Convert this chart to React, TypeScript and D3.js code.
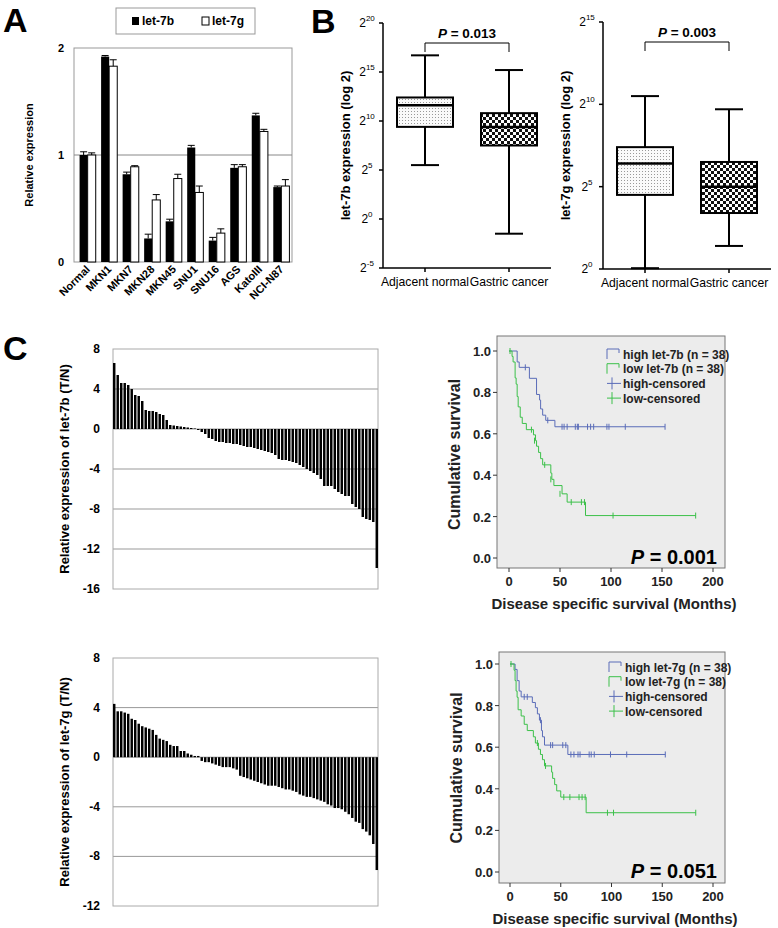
import React from "react";
import * as d3 from "d3";

const cellLines = ["Normal","MKN1","MKN7","MKN28","MKN45","SNU1","SNU16","AGS","KatoIII","NCI-N87"];
const let7b = [1.0,1.92,0.82,0.22,0.38,1.07,0.2,0.88,1.37,0.7];
const let7bErr = [0.03,0.01,0.02,0.04,0.02,0.02,0.03,0.03,0.02,0.01];
const let7g = [1.0,1.83,0.89,0.58,0.78,0.65,0.27,0.89,1.22,0.71];
const let7gErr = [0.02,0.06,0.01,0.05,0.04,0.06,0.04,0.02,0.02,0.06];

// box stats [min,q1,median,q3,max] in log2
const box7b = [[5.5,9.4,11.6,12.4,16.7],[-1.5,7.5,9.4,10.8,15.2]];
const box7g = [[0.05,4.5,6.4,7.4,10.5],[1.4,3.4,5.0,6.5,9.7]];
const boxGroups = ["Adjacent normal","Gastric cancer"];

const ratio7b = [6.6,5.4,4.6,4.6,4.4,4.0,3.4,3.3,2.8,1.9,1.8,1.8,1.7,1.5,1.4,0.9,0.4,0.35,0.3,0.25,0.2,0.15,0.1,0.05,
 -0.1,-0.3,-0.5,-0.9,-1.0,-1.2,-1.3,-1.3,-1.4,-1.4,-1.5,-1.5,-1.6,-1.7,-1.8,-1.8,-1.9,-2.0,-2.1,-2.2,-2.3,-2.4,-2.6,-3.0,-3.1,-3.1,-3.2,-3.3,-3.4,-3.6,-3.8,-4.0,-4.2,-4.4,-4.6,-5.0,-5.7,-5.7,-5.7,-6.0,-6.3,-6.5,-6.7,-6.7,-7.5,-7.8,-8.0,-8.8,-9.0,-9.1,-9.3,-13.9];
const ratio7g = [4.3,3.7,3.7,3.6,3.5,3.1,3.0,2.7,2.5,2.4,2.3,2.2,1.8,1.5,1.4,1.3,1.0,0.9,0.9,0.5,0.5,0.3,0.2,0.1,0.1,
 -0.3,-0.4,-0.4,-0.5,-0.6,-0.7,-0.8,-0.8,-0.8,-0.9,-1.0,-1.5,-1.6,-1.7,-1.8,-1.9,-2.0,-2.1,-2.2,-2.3,-2.3,-2.3,-2.4,-2.5,-2.6,-2.6,-2.7,-2.8,-3.0,-3.1,-3.2,-3.2,-3.3,-3.4,-3.5,-3.6,-3.8,-3.9,-4.1,-4.1,-4.2,-4.4,-4.6,-4.9,-5.2,-5.3,-5.8,-6.0,-6.3,-7.0,-9.1];

const high7b = [[0,1],[8,0.947],[10,0.921],[20,0.868],[27,0.79],[30,0.763],[31,0.72],[33,0.69],[36,0.665],[45,0.634],[153,0.634]];
const high7bCens = [[16,0.921],[38,0.665],[52,0.634],[54,0.634],[57,0.634],[65,0.634],[67,0.634],[68,0.634],[77,0.634],[80,0.634],[83,0.634],[96,0.634],[98,0.634],[114,0.634],[153,0.634]];
const low7b = [[0,1],[3,0.974],[4,0.947],[6,0.87],[7,0.84],[8,0.78],[9,0.73],[11,0.68],[13,0.65],[17,0.62],[24,0.595],[26,0.567],[27,0.54],[29,0.51],[31,0.48],[33,0.45],[41,0.41],[42,0.38],[44,0.35],[52,0.31],[57,0.27],[75,0.205],[183,0.205]];
const low7bCens = [[1,1],[22,0.62],[25,0.567],[35,0.45],[41,0.38],[50,0.31],[61,0.27],[71,0.27],[74,0.27],[102,0.205],[183,0.205]];
const high7g = [[0,1],[5,0.974],[7,0.92],[9,0.87],[11,0.842],[22,0.815],[25,0.79],[27,0.76],[29,0.73],[31,0.68],[32,0.65],[34,0.61],[57,0.565],[153,0.565]];
const high7gCens = [[14,0.842],[17,0.842],[30,0.73],[40,0.61],[42,0.61],[52,0.61],[55,0.61],[60,0.565],[63,0.565],[67,0.565],[69,0.565],[78,0.565],[80,0.565],[83,0.565],[99,0.565],[115,0.565],[153,0.565]];
const low7g = [[0,1],[4,0.97],[5,0.92],[6,0.87],[7,0.84],[8,0.78],[11,0.75],[14,0.71],[17,0.68],[23,0.65],[25,0.62],[28,0.59],[30,0.565],[32,0.54],[34,0.51],[41,0.48],[42,0.45],[44,0.42],[46,0.39],[50,0.36],[75,0.285],[183,0.285]];
const low7gCens = [[1,1],[27,0.62],[35,0.51],[53,0.36],[59,0.36],[68,0.36],[71,0.36],[74,0.36],[96,0.285],[102,0.285],[183,0.285]];

const F = "Arial, 'Liberation Sans', sans-serif";
const BLUE = "#5a6cb8";
const GREEN = "#3cc04a";

function PanelA() {
  const x = d3.scaleBand().domain(cellLines).range([77, 292]).paddingInner(0.25).paddingOuter(0.12);
  const y = d3.scaleLinear().domain([0, 2]).range([262, 48]);
  const bw = x.bandwidth() / 2;
  return (
    <g>
      <rect x={116} y={8} width={139} height={26} fill="#fff" stroke="#999" />
      <rect x={132} y={17} width={7} height={8} fill="#000" />
      <text x={142} y={25} fontSize={12} fontWeight="bold" fontFamily={F}>let-7b</text>
      <rect x={202} y={17} width={7} height={8} fill="#fff" stroke="#000" />
      <text x={212} y={25} fontSize={12} fontWeight="bold" fontFamily={F}>let-7g</text>
      <rect x={74} y={48} width={218} height={214} fill="none" stroke="#999" />
      <line x1={74} x2={292} y1={y(1)} y2={y(1)} stroke="#888" />
      {[0, 1, 2].map(t => (
        <text key={t} x={64} y={y(t) + 4} fontSize={11} fontWeight="bold" fontFamily={F} textAnchor="end">{t}</text>
      ))}
      <text transform="translate(33,155) rotate(-90)" fontSize={11} fontWeight="bold" fontFamily={F} textAnchor="middle">Relative expression</text>
      {cellLines.map((c, i) => {
        const x0 = x(c)!;
        return (
          <g key={c}>
            <rect x={x0} y={y(let7b[i])} width={bw} height={y(0) - y(let7b[i])} fill="#000" />
            <rect x={x0 + bw} y={y(let7g[i])} width={bw} height={y(0) - y(let7g[i])} fill="#fff" stroke="#000" />
            {[[x0 + bw / 2, let7b[i], let7bErr[i]], [x0 + bw * 1.5, let7g[i], let7gErr[i]]].map(([cx, v, e], k) => (
              <g key={k} stroke="#000">
                <line x1={cx} x2={cx} y1={y(v)} y2={y(v + e)} />
                <line x1={cx - 3.5} x2={cx + 3.5} y1={y(v + e)} y2={y(v + e)} />
              </g>
            ))}
            <text transform={`translate(${x0 + bw + 3},270) rotate(-45)`} fontSize={11} fontWeight="bold" fontFamily={F} textAnchor="end">{c}</text>
          </g>
        );
      })}
    </g>
  );
}

function BoxPanel({ data, xAxis, top, bottom, domain, ticks, label, p, id }: any) {
  const y = d3.scaleLinear().domain(domain).range([bottom, top]);
  const xs = [xAxis + 42, xAxis + 126];
  const hw = 28;
  return (
    <g>
      <line x1={xAxis} x2={xAxis} y1={top} y2={bottom} stroke="#000" strokeWidth={1.5} />
      <line x1={xAxis} x2={xAxis + 168} y1={bottom} y2={bottom} stroke="#000" strokeWidth={1.5} />
      {ticks.map((t: number) => (
        <g key={t}>
          <line x1={xAxis - 4} x2={xAxis} y1={y(t)} y2={y(t)} stroke="#000" strokeWidth={1.5} />
          <text x={xAxis - 16} y={y(t) + 4} fontSize={12} fontFamily={F} textAnchor="middle">2<tspan dy={-6} fontSize={8}>{t}</tspan></text>
        </g>
      ))}
      <text transform={`translate(${xAxis - 33},${(top + bottom) / 2}) rotate(-90)`} fontSize={13} fontWeight="bold" fontFamily={F} textAnchor="middle">{label}</text>
      {data.map((d: number[], i: number) => (
        <g key={i} stroke="#000" strokeWidth={2}>
          <line x1={xs[i]} x2={xs[i]} y1={y(d[0])} y2={y(d[4])} />
          <line x1={xs[i] - 14} x2={xs[i] + 14} y1={y(d[0])} y2={y(d[0])} />
          <line x1={xs[i] - 14} x2={xs[i] + 14} y1={y(d[4])} y2={y(d[4])} />
          <rect x={xs[i] - hw} y={y(d[3])} width={hw * 2} height={y(d[1]) - y(d[3])} fill={i === 0 ? `url(#dots${id})` : `url(#check${id})`} />
          <line x1={xs[i] - hw} x2={xs[i] + hw} y1={y(d[2])} y2={y(d[2])} strokeWidth={2.5} />
          <line x1={xs[i]} x2={xs[i]} y1={bottom} y2={bottom + 4} strokeWidth={1.5} />
          <text x={xs[i]} y={bottom + 18} fontSize={12.2} fontFamily={F} textAnchor="middle" stroke="none">{boxGroups[i]}</text>
        </g>
      ))}
      <path d={`M${xs[0]},${top + 29} V${top + 20} H${xs[1]} V${top + 29}`} fill="none" stroke="#000" />
      <text x={(xs[0] + xs[1]) / 2} y={top + 15} fontSize={13.5} fontWeight="bold" fontFamily={F} textAnchor="middle"><tspan fontStyle="italic">P</tspan> = {p}</text>
    </g>
  );
}

function Waterfall({ values, top, bottom, domain, ticks, label }: any) {
  const y = d3.scaleLinear().domain(domain).range([bottom, top]);
  const x = d3.scaleBand<number>().domain(d3.range(values.length)).range([113, 378]).paddingInner(0.3);
  return (
    <g>
      {ticks.map((t: number) => (
        <g key={t}>
          {t !== domain[0] && t !== domain[1] && <line x1={113} x2={378} y1={y(t)} y2={y(t)} stroke="#999" />}
          <text x={100} y={y(t) + 4} fontSize={12} fontWeight="bold" fontFamily={F} textAnchor="end">{t}</text>
        </g>
      ))}
      <rect x={113} y={top} width={265} height={bottom - top} fill="none" stroke="#aaa" />
      {values.map((v: number, i: number) => (
        <rect key={i} x={x(i)} width={x.bandwidth()} y={Math.min(y(v), y(0))} height={Math.abs(y(v) - y(0))} fill="#000" />
      ))}
      <text transform={`translate(69,${(top + bottom) / 2}) rotate(-90)`} fontSize={13} fontWeight="bold" fontFamily={F} textAnchor="middle">{label}</text>
    </g>
  );
}

function KM({ box, x0, x200, y1, y0, series, gene, p }: any) {
  const x = d3.scaleLinear().domain([0, 200]).range([x0, x200]);
  const y = d3.scaleLinear().domain([0, 1]).range([y0, y1]);
  const line = d3.line<number[]>().x(d => x(d[0])).y(d => y(d[1])).curve(d3.curveStepAfter);
  const lx = box[0] + 110;
  const ly = y1 + 3;
  const legend = [
    [`high ${gene} (n = 38)`, BLUE, "step"], [`low ${gene}  (n = 38)`, GREEN, "step"],
    ["high-censored", BLUE, "cross"], ["low-censored", GREEN, "cross"]];
  return (
    <g>
      <rect x={box[0]} y={box[1]} width={box[2] - box[0]} height={box[3] - box[1]} fill="#ececec" stroke="#777" />
      {series.map(([pts, cens, col]: any, i: number) => (
        <g key={i}>
          <path d={line(pts)!} fill="none" stroke={col} strokeWidth={1} />
          {cens.map((c: number[], j: number) => (
            <line key={j} x1={x(c[0])} x2={x(c[0])} y1={y(c[1]) - 3} y2={y(c[1]) + 3} stroke={col} />
          ))}
        </g>
      ))}
      {legend.map(([t, col, kind], i) => {
        const yy = ly + i * 14.7;
        return (
          <g key={i}>
            {kind === "step"
              ? <path d={`M${lx},${yy + 5} V${yy - 5} H${lx + 12} V${yy - 1}`} fill="none" stroke={col} />
              : <g stroke={col}><line x1={lx} x2={lx + 14} y1={yy} y2={yy} /><line x1={lx + 5} x2={lx + 5} y1={yy - 6} y2={yy + 6} /></g>}
            <text x={lx + 16} y={yy + 4.5} fontSize={12} fontWeight="bold" fontFamily={F} fill="#222">{t}</text>
          </g>
        );
      })}
      {[0, 0.2, 0.4, 0.6, 0.8, 1].map(t => (
        <g key={t}>
          <line x1={box[0] - 4} x2={box[0]} y1={y(t)} y2={y(t)} stroke="#333" />
          <text x={box[0] - 6} y={y(t) + 5} fontSize={13} fontWeight="bold" fontFamily={F} textAnchor="end" fill="#222">{t.toFixed(1)}</text>
        </g>
      ))}
      {[0, 50, 100, 150, 200].map(t => (
        <g key={t}>
          <line x1={x(t)} x2={x(t)} y1={box[3]} y2={box[3] + 4} stroke="#333" />
          <text x={x(t)} y={box[3] + 18} fontSize={13} fontWeight="bold" fontFamily={F} textAnchor="middle" fill="#222">{t}</text>
        </g>
      ))}
      <text transform={`translate(${box[0] - 37},${(y0 + y1) / 2}) rotate(-90)`} fontSize={16} fontWeight="600" fontFamily={F} textAnchor="middle" fill="#222">Cumulative survival</text>
      <text x={(box[0] + box[2]) / 2 + 3} y={box[3] + 41} fontSize={15} fontWeight="bold" fontFamily={F} textAnchor="middle" fill="#222">Disease specific survival (Months)</text>
      <text x={box[2] - 8} y={y0 + 6} fontSize={20} fontWeight="bold" fontFamily={F} textAnchor="end"><tspan fontStyle="italic">P</tspan> = {p}</text>
    </g>
  );
}

export default function App() {
  return (
    <svg width={778} height={928} style={{ position: "absolute", left: 0, top: 0, background: "#fff" }}>
      <defs>
        {["1", "2"].map(id => (
          <g key={id}>
            <pattern id={`dots${id}`} width={3} height={3} patternUnits="userSpaceOnUse">
              <rect width={3} height={3} fill="#fafafa" />
              <rect width={1} height={1} fill="#999" />
            </pattern>
            <pattern id={`check${id}`} width={6} height={6} patternUnits="userSpaceOnUse">
              <rect width={6} height={6} fill="#fff" />
              <rect width={3} height={3} fill="#111" />
              <rect x={3} y={3} width={3} height={3} fill="#111" />
            </pattern>
          </g>
        ))}
      </defs>
      <text x={3} y={32} fontSize={34} fontWeight="bold" fontFamily={F}>A</text>
      <text x={311} y={33} fontSize={34} fontWeight="bold" fontFamily={F}>B</text>
      <text x={3} y={360} fontSize={34} fontWeight="bold" fontFamily={F}>C</text>
      <PanelA />
      <BoxPanel id="1" data={box7b} xAxis={383} top={23} bottom={268} domain={[-5, 20]} ticks={[-5, 0, 5, 10, 15, 20]} label="let-7b expression (log 2)" p="0.013" />
      <BoxPanel id="2" data={box7g} xAxis={603} top={22} bottom={269} domain={[0, 15]} ticks={[0, 5, 10, 15]} label="let-7g expression (log 2)" p="0.003" />
      <Waterfall values={ratio7b} top={349} bottom={589} domain={[-16, 8]} ticks={[8, 4, 0, -4, -8, -12, -16]} label="Relative expression of let-7b (T/N)" />
      <Waterfall values={ratio7g} top={658} bottom={906} domain={[-12, 8]} ticks={[8, 4, 0, -4, -8, -12]} label="Relative expression of let-7g (T/N)" />
      <KM box={[497, 336, 725, 568]} x0={509} x200={713} y1={351} y0={558} gene="let-7b" p="0.001"
        series={[[high7b, high7bCens, BLUE], [low7b, low7bCens, GREEN]]} />
      <KM box={[499, 652, 725, 883]} x0={510} x200={713} y1={664} y0={872} gene="let-7g" p="0.051"
        series={[[high7g, high7gCens, BLUE], [low7g, low7gCens, GREEN]]} />
    </svg>
  );
}
